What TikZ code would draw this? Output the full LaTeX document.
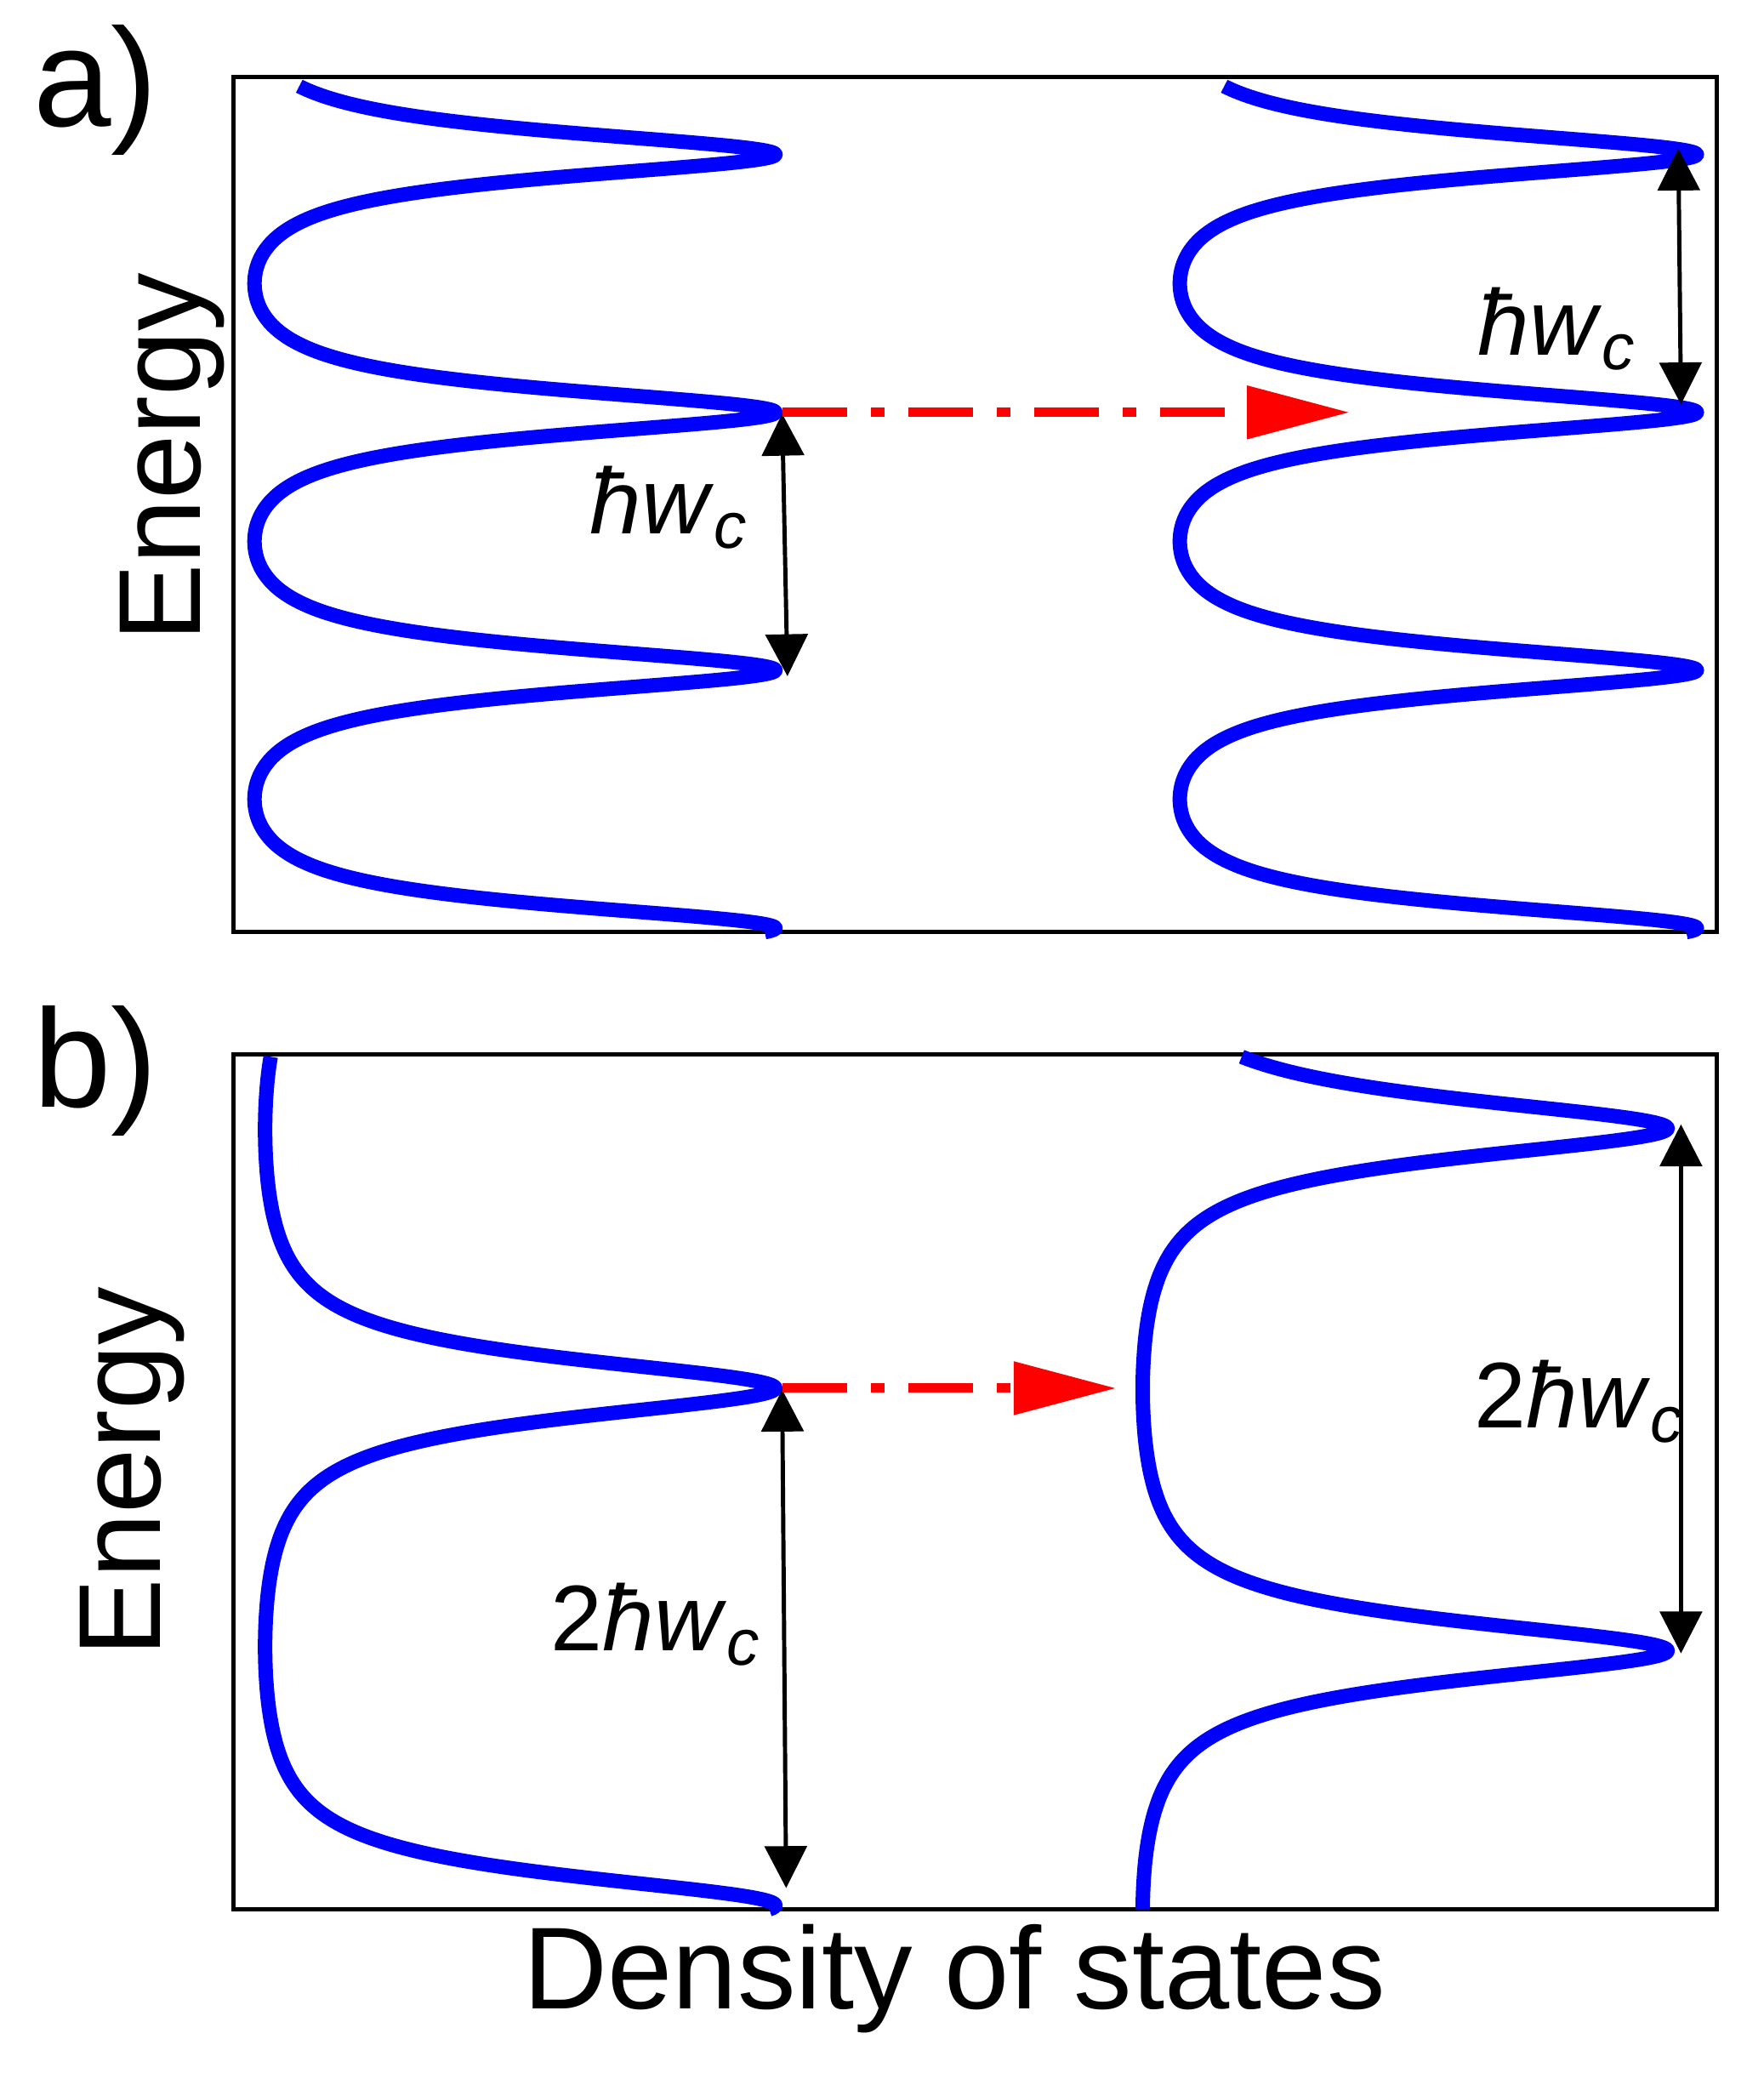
\documentclass[tikz,border=0pt]{standalone}
\usepackage{fontspec}
\setmainfont{Liberation Sans}
\usetikzlibrary{arrows.meta}
\newcommand{\hwc}{\textit{ħw}\textsubscript{\textit{c}}}
\begin{document}
\begin{tikzpicture}[x=0.01cm,y=-0.01cm,
  dos/.style={blue,line width=3.1pt,line join=round},
  frame/.style={black,line width=0.9pt},
  gap/.style={black,line width=0.9pt,{Triangle[length=9pt,width=9pt]}-{Triangle[length=9pt,width=9pt]}},
  jump/.style={red,line width=2pt,dash pattern=on 14pt off 5pt on 3pt off 5pt,-{Triangle[length=22pt,width=11pt]}},
  lbl/.style={font=\fontsize{30}{34}\selectfont},
  axl/.style={font=\fontsize{25}{30}\selectfont},
  hw/.style={font=\fontsize{20}{22}\selectfont}]
\useasboundingbox (0,0) rectangle (1330,1568);
% panel a
\draw[frame] (176,58) rectangle (1295,703);
\draw[dos] plot[domain=65:703,samples=1277,variable=\t]
 ({192+393*((0.2552/(1.2552-cos((\t-311)*1.85090)))-0.1132)/0.8868},\t);
\draw[dos] plot[domain=65:703,samples=1277,variable=\t]
 ({890+390*((0.2552/(1.2552-cos((\t-311)*1.85090)))-0.1132)/0.8868},\t);
\coordinate (a1) at (590,312); \coordinate (a2) at (594,510);
\coordinate (a3) at (1266,112); \coordinate (a4) at (1268,305);
\coordinate (ar1) at (590,311); \coordinate (ar2) at (1018,311);
\draw[gap] (a1) -- (a2); \draw[gap] (a3) -- (a4);
\draw[jump] (ar1) -- (ar2);
\node[hw] (ha) at (505,383) {\hwc};
\node[hw] (hb) at (1175,248) {\hwc};
\node[lbl] (la) at (72,68) {a)};
\node[axl,rotate=90] (ea) at (130,345) {Energy};
% panel b
\draw[frame] (176,795) rectangle (1295,1440);
\draw[dos] plot[domain=797:1440,samples=1287,variable=\t]
 ({200+385*((0.103/(1.103-cos((\t-1047)*0.92308)))-0.049)/0.951},\t);
\draw[dos] plot[domain=797:1440,samples=1287,variable=\t]
 ({862+396*((0.103/(1.103-cos((\t-851)*0.91371)))-0.049)/0.951},\t);
\coordinate (b1) at (590,1048); \coordinate (b2) at (593,1424);
\coordinate (b3) at (1268,848); \coordinate (b4) at (1268,1247);
\coordinate (br1) at (590,1047); \coordinate (br2) at (842,1047);
\draw[gap] (b1) -- (b2); \draw[gap] (b3) -- (b4);
\draw[jump] (br1) -- (br2);
\node[hw] (hc) at (495,1225) {2\hwc};
\node[hw] (hd) at (1192,1057) {2\hwc};
\node[lbl] (lb) at (72,808) {b)};
\node[axl,rotate=90] (eb) at (100,1110) {Energy};
\node[axl] (dx) at (720,1492) {Density of states};
\end{tikzpicture}
\end{document}
